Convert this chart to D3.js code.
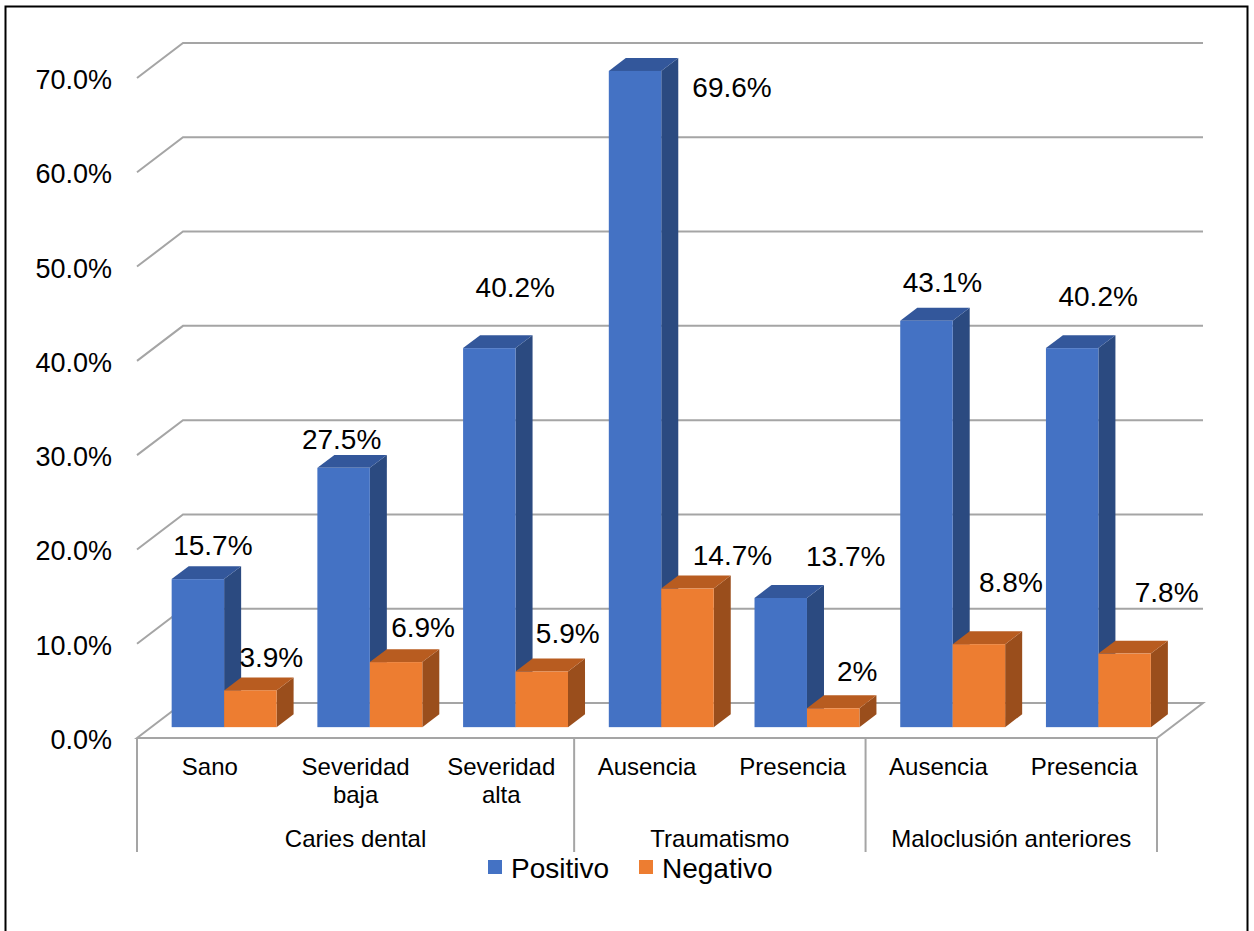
<!DOCTYPE html>
<html>
<head>
<meta charset="utf-8">
<script src="https://cdn.jsdelivr.net/npm/d3@7"></script>
<style>
  html, body { margin: 0; padding: 0; background: #fff; }
  svg { display: block; font-family: "Liberation Sans", Arial, sans-serif; }
</style>
</head>
<body>
<svg id="chart" width="1254" height="931"></svg>
<script>
// Categories and their groups
const categories = ["Sano", "Severidad baja", "Severidad alta", "Ausencia T", "Presencia T", "Ausencia M", "Presencia M"];
const categoryLines = [["Sano"], ["Severidad", "baja"], ["Severidad", "alta"], ["Ausencia"], ["Presencia"], ["Ausencia"], ["Presencia"]];
const groups = ["Caries dental", "Traumatismo", "Maloclusión anteriores"];
const groupSpans = [[0, 2], [3, 4], [5, 6]];

// Series values (%)
const seriesNames = ["Positivo", "Negativo"];
const positivo = [15.7, 27.5, 40.2, 69.6, 13.7, 43.1, 40.2];
const negativo = [3.9, 6.9, 5.9, 14.7, 2, 8.8, 7.8];
const labelText = {
  Positivo: ["15.7%", "27.5%", "40.2%", "69.6%", "13.7%", "43.1%", "40.2%"],
  Negativo: ["3.9%", "6.9%", "5.9%", "14.7%", "2%", "8.8%", "7.8%"]
};

// Value axis ticks
const yTicks = [0, 10, 20, 30, 40, 50, 60, 70];

// Data label offsets from the top-front centre of each column
const labelNudge = {
  Positivo: [[15, -34], [-2, -28], [26, -61], [97, 17], [65, -41], [16, -38], [26, -52]],
  Negativo: [[21, -33], [27, -35], [26, -38], [45, -33], [24, -37], [32, -62], [42, -61]]
};

const colors = {
  Positivo: { front: "#4472C4", top: "#33579B", side: "#2B4A80" },
  Negativo: { front: "#ED7D31", top: "#B85C20", side: "#9A4E1C" }
};

const svg = d3.select("#chart");

// Plot geometry: front floor edge, and the oblique depth vector
const floorLeft = 137, floorRight = 1157, floorY = 738;
const depthX = 46, depthY = -35;
const barDepth0 = 0.31, barDepth1 = 0.68;

const x0 = d3.scaleBand().domain(categories).range([floorLeft, floorRight])
  .paddingInner(0.28).paddingOuter(0.14);
const x1 = d3.scaleBand().domain(seriesNames).range([0, x0.bandwidth()]);
const y = d3.scaleLinear().domain([0, 70]).range([floorY, floorY - 660]);

// Project (front x, value, depth fraction) to screen
function P(xf, v, d) {
  return [xf + depthX * d, y(v) + depthY * d];
}
const poly = pts => "M" + pts.map(p => p.join(",")).join("L") + "Z";

// Outer frame
svg.append("rect")
  .attr("x", 5.5).attr("y", 6.5).attr("width", 1242).attr("height", 960)
  .attr("fill", "none").attr("stroke", "#000").attr("stroke-width", 2);

const grid = svg.append("g").attr("stroke", "#a5a5a5").attr("stroke-width", 2).attr("fill", "none");

// Back-wall gridlines with the oblique segment to the value axis
yTicks.filter(t => t > 0).forEach(t => {
  const a = P(floorLeft, t, 0), b = P(floorLeft, t, 1), c = P(floorRight, t, 1);
  grid.append("path").attr("d", "M" + a + "L" + b + "L" + c);
});

// Floor outline
grid.append("path").attr("d", poly([
  P(floorLeft, 0, 0), P(floorLeft, 0, 1), P(floorRight, 0, 1), P(floorRight, 0, 0)
]));

// Value axis labels
svg.append("g").selectAll("text").data(yTicks).join("text")
  .attr("x", 112).attr("y", d => y(d) + 2)
  .attr("text-anchor", "end").attr("dominant-baseline", "central")
  .attr("font-size", 27).attr("fill", "#000")
  .text(d => d3.format(".1%")(d / 100));

// Columns
const bars = svg.append("g");
categories.forEach((cat, i) => {
  seriesNames.forEach(s => {
    const v = (s === "Positivo" ? positivo : negativo)[i];
    const xl = x0(cat) + x1(s), xr = xl + x1.bandwidth();
    const c = colors[s];
    const g = bars.append("g");
    // side face
    g.append("path").attr("fill", c.side).attr("d", poly([
      P(xr, 0, barDepth0), P(xr, 0, barDepth1), P(xr, v, barDepth1), P(xr, v, barDepth0)
    ]));
    // top face
    g.append("path").attr("fill", c.top).attr("d", poly([
      P(xl, v, barDepth0), P(xl, v, barDepth1), P(xr, v, barDepth1), P(xr, v, barDepth0)
    ]));
    // front face
    const f0 = P(xl, v, barDepth0), f1 = P(xr, 0, barDepth0);
    g.append("rect").attr("fill", c.front)
      .attr("x", f0[0]).attr("y", f0[1]).attr("width", f1[0] - f0[0]).attr("height", f1[1] - f0[1]);
  });
});

// Data labels
const labels = svg.append("g").attr("font-size", 28).attr("fill", "#000")
  .attr("text-anchor", "middle").attr("dominant-baseline", "central");
categories.forEach((cat, i) => {
  seriesNames.forEach(s => {
    const v = (s === "Positivo" ? positivo : negativo)[i];
    const xc = x0(cat) + x1(s) + x1.bandwidth() / 2;
    const p = P(xc, v, barDepth0);
    const n = labelNudge[s][i];
    labels.append("text").attr("x", p[0] + n[0]).attr("y", p[1] + n[1]).text(labelText[s][i]);
  });
});

// Category axis: front edge already drawn; group separators
const step = x0.step();
const sepX = [floorLeft].concat(groupSpans.map(sp => floorLeft + step * (sp[1] + 1)));
grid.append("g").selectAll("line").data(sepX).join("line")
  .attr("x1", d => d).attr("x2", d => d).attr("y1", floorY).attr("y2", 852);

const catG = svg.append("g").attr("font-size", 24).attr("fill", "#000").attr("text-anchor", "middle");
categories.forEach((cat, i) => {
  const cx = floorLeft + step * (i + 0.5);
  const t = catG.append("text").attr("x", cx).attr("y", 775);
  categoryLines[i].forEach((ln, k) => {
    t.append("tspan").attr("x", cx).attr("dy", k === 0 ? 0 : 28).text(ln);
  });
});
groups.forEach((gname, gi) => {
  const sp = groupSpans[gi];
  const cx = floorLeft + step * (sp[0] + sp[1] + 1) / 2;
  catG.append("text").attr("x", cx).attr("y", 847).text(gname);
});

// Legend
const legend = svg.append("g").attr("font-size", 28).attr("fill", "#000");
const legendX = [488, 639];
seriesNames.forEach((s, k) => {
  legend.append("rect").attr("x", legendX[k]).attr("y", 860).attr("width", 14).attr("height", 14)
    .attr("fill", colors[s].front);
  legend.append("text").attr("x", legendX[k] + 23).attr("y", 868)
    .attr("dominant-baseline", "central").text(s);
});
</script>
</body>
</html>
